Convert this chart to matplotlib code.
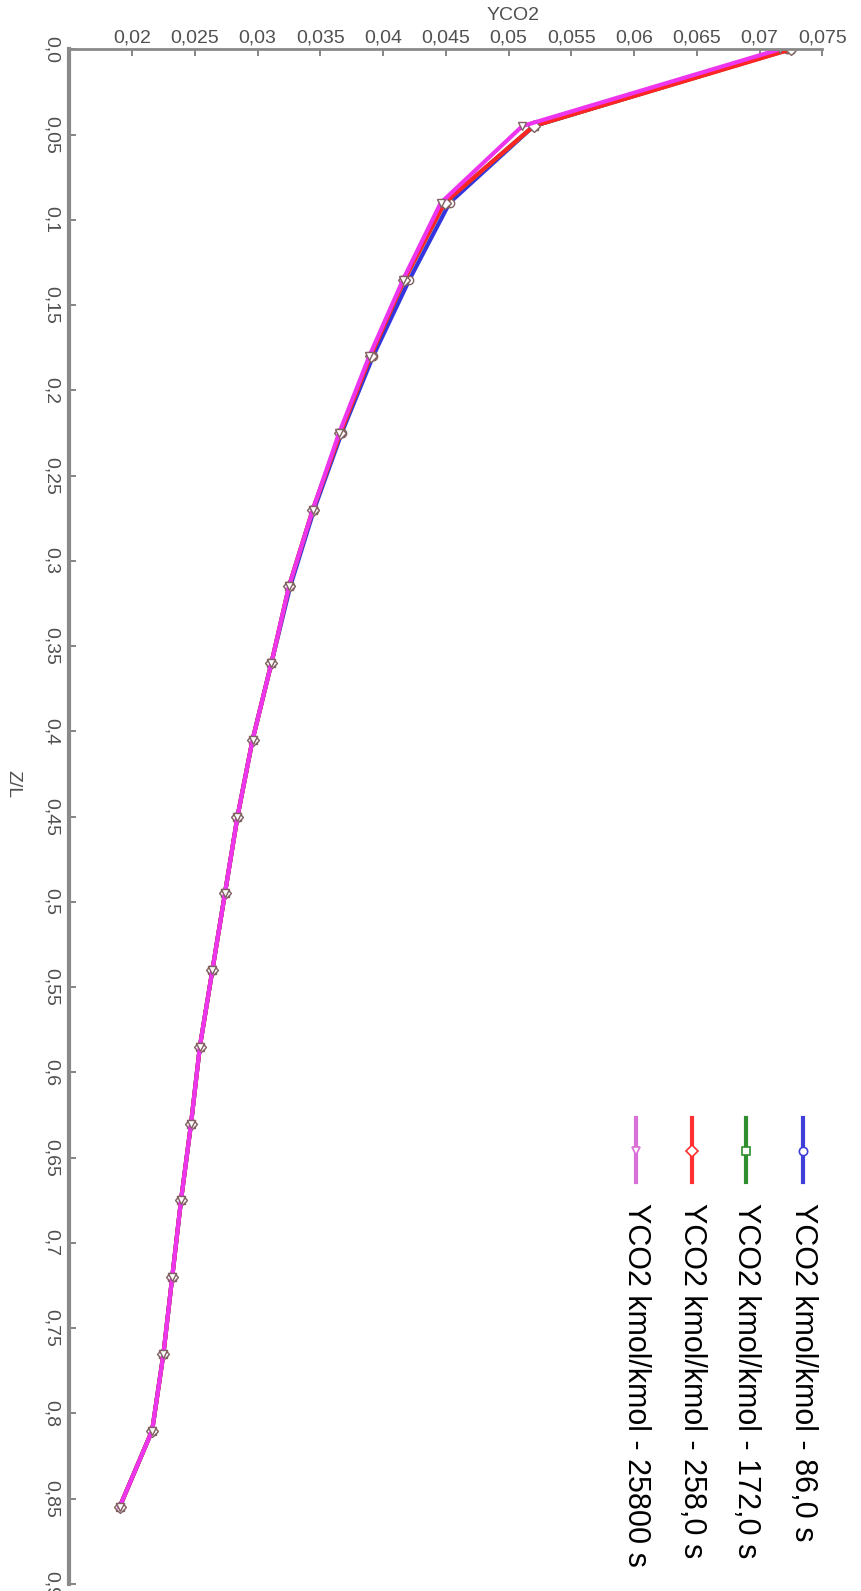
import matplotlib
matplotlib.use('Agg')
import matplotlib.pyplot as plt
from matplotlib.lines import Line2D

plt.rcParams['font.family'] = ['Liberation Sans', 'DejaVu Sans']

# posizioni adimensionali lungo la colonna
zl = [0.0, 0.045, 0.09, 0.135, 0.18, 0.225, 0.27, 0.315, 0.36, 0.405,
      0.45, 0.495, 0.54, 0.585, 0.63, 0.675, 0.72, 0.765, 0.81, 0.855]

# profili YCO2 (kmol/kmol) ai vari tempi
yco2_86 = [0.0722, 0.0520, 0.0453, 0.0421, 0.0392, 0.0367, 0.0345, 0.0326, 0.0311, 0.0296,
           0.0284, 0.0274, 0.0264, 0.0254, 0.0247, 0.0239, 0.0232, 0.0225, 0.0216, 0.0190]
yco2_172 = [0.0724, 0.0520, 0.0449, 0.0417, 0.0390, 0.0366, 0.0344, 0.0325, 0.0311, 0.0296,
            0.0284, 0.0274, 0.0264, 0.0254, 0.0247, 0.0239, 0.0232, 0.0225, 0.0216, 0.0190]
yco2_258 = [0.0725, 0.0520, 0.0449, 0.0417, 0.0390, 0.0366, 0.0344, 0.0325, 0.0311, 0.0296,
            0.0284, 0.0274, 0.0264, 0.0254, 0.0247, 0.0239, 0.0232, 0.0225, 0.0216, 0.0190]
yco2_25800 = [0.0716, 0.0511, 0.0446, 0.0416, 0.0389, 0.0365, 0.0344, 0.0325, 0.0311, 0.0296,
              0.0284, 0.0274, 0.0264, 0.0254, 0.0247, 0.0239, 0.0232, 0.0225, 0.0216, 0.0190]

labels = ['YCO2 kmol/kmol - 86,0 s', 'YCO2 kmol/kmol - 172,0 s',
          'YCO2 kmol/kmol - 258,0 s', 'YCO2 kmol/kmol - 25800 s']

x_ticks = [0.02, 0.025, 0.03, 0.035, 0.04, 0.045, 0.05, 0.055, 0.06, 0.065, 0.07, 0.075]
x_ticklabels = ['0,02', '0,025', '0,03', '0,035', '0,04', '0,045', '0,05', '0,055',
                '0,06', '0,065', '0,07', '0,075']
z_ticks = [0.0, 0.05, 0.1, 0.15, 0.2, 0.25, 0.3, 0.35, 0.4, 0.45,
           0.5, 0.55, 0.6, 0.65, 0.7, 0.75, 0.8, 0.85, 0.9]
z_ticklabels = ['0,0', '0,05', '0,1', '0,15', '0,2', '0,25', '0,3', '0,35', '0,4', '0,45',
                '0,5', '0,55', '0,6', '0,65', '0,7', '0,75', '0,8', '0,85', '0,9']

series = [yco2_86, yco2_172, yco2_258, yco2_25800]
colori = ['#3535e0', '#2a8c2a', '#ff2525', '#ee35ee']
colori_leg = ['#4040d8', '#2f8f2f', '#ff3030', '#d870d8']
marker = ['o', 's', 'D', 'v']

fig = plt.figure(figsize=(8.61, 15.91), dpi=100)
ax = fig.add_axes([0.0805, 0.0044, 0.8746, 0.9646])

for ys, c, m in zip(series, colori, marker):
    ax.plot(ys, zl, color=c, lw=3, marker=m, ms=6, mfc='white', mec='#806060', mew=1)

ax.set_xlim(0.015, 0.075)
ax.set_ylim(0.9, 0.0)
ax.xaxis.tick_top()
for s in ['right', 'bottom']:
    ax.spines[s].set_visible(False)
for s in ['left', 'top']:
    ax.spines[s].set_color('#8a8a8a')
ax.spines['left'].set_linewidth(3)
ax.spines['top'].set_linewidth(2)

ax.set_xticks(x_ticks)
ax.set_xticklabels(x_ticklabels, fontsize=14, color='#505050')
ax.set_yticks(z_ticks)
ax.set_yticklabels(z_ticklabels, fontsize=14, color='#505050', rotation=-90, va='center')
ax.tick_params(axis='x', direction='in', length=5, width=1.2, color='#707070', pad=2)
ax.tick_params(axis='y', direction='in', length=5, width=1.2, color='#707070', pad=7)

fig.text(0.596, 0.990, 'YCO2', fontsize=14, color='#505050', ha='center', va='center')
fig.text(0.015, 0.507, 'Z/L', fontsize=14, color='#505050', ha='center', va='center', rotation=-90)

# legenda disegnata a mano, ruotata come il resto
leg_x = [803, 746, 692, 636]
for lx, lab, c, m in zip(leg_x, labels, colori_leg, marker):
    fx = lx / 861
    fig.add_artist(Line2D([fx, fx], [1 - 1118 / 1591, 1 - 1182 / 1591], transform=fig.transFigure,
                          color=c, lw=3))
    fig.add_artist(Line2D([fx], [1 - 1151 / 1591], transform=fig.transFigure, color=c,
                          marker=m, ms=6, mfc='white', mec=c, mew=1.2))
    fig.text(fx, 1 - 1203 / 1591, lab, fontsize=22, rotation=-90, ha='center', va='top',
             color='black')

plt.savefig('out.png')
